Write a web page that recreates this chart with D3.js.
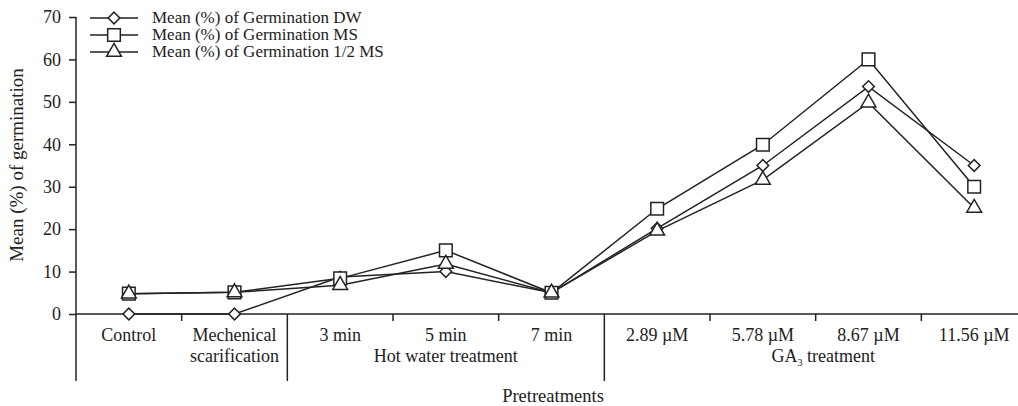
<!DOCTYPE html>
<html>
<head>
<meta charset="utf-8">
<script src="https://cdn.jsdelivr.net/npm/d3@7"></script>
<style>
  body { margin: 0; background: #fff; }
  text { font-family: "Liberation Serif", "Times New Roman", serif; fill: #222; }
</style>
</head>
<body>
<svg id="chart" width="1018" height="406"></svg>
<script>
// categories and values
var categories = ["Control", "Mechenical scarification", "3 min", "5 min", "7 min",
                  "2.89 \u00b5M", "5.78 \u00b5M", "8.67 \u00b5M", "11.56 \u00b5M"];
var groups = [
  { label: "", from: 0, to: 1 },
  { label: "Hot water treatment", from: 2, to: 4 },
  { label: "GA3 treatment", from: 5, to: 8 }
];
var dw     = [0, 0, 8.7, 10, 5, 20.2, 35, 53.6, 35];
var ms     = [4.8, 5.1, 8.4, 15, 5, 24.8, 39.9, 60, 30];
var halfMs = [4.8, 5.1, 6.8, 11.8, 5, 19.6, 31.6, 49.8, 25];
var yTicks = [0, 10, 20, 30, 40, 50, 60, 70];

var series = [
  { name: "Mean (%) of Germination DW", values: dw, shape: d3.symbolSquare, size: 68, rot: 45 },
  { name: "Mean (%) of Germination MS", values: ms, shape: d3.symbolSquare, size: 160, rot: 0 },
  { name: "Mean (%) of Germination 1/2 MS", values: halfMs, shape: d3.symbolTriangle, size: 95, rot: 0 }
];

var svg = d3.select("#chart");
var plotLeft = 76, plotTop = 17, plotBottom = 314, plotRight = 1027;

var x = d3.scaleBand().domain(d3.range(categories.length)).range([plotLeft, plotRight]);
var y = d3.scaleLinear().domain([0, 70]).range([plotBottom, plotTop]);

var ink = "#222";
var fs = "17px";

// y axis
var yAxis = svg.append("g").attr("transform", "translate(" + plotLeft + ",0)")
  .call(d3.axisLeft(y).tickValues(yTicks).tickSize(7).tickPadding(8));
yAxis.select(".domain").remove();
yAxis.selectAll("line").attr("stroke", ink).attr("stroke-width", 1.5);
yAxis.selectAll("text").style("font-size", "18px").style("font-family", "Liberation Serif").attr("fill", ink);
svg.append("line").attr("x1", plotLeft).attr("x2", plotLeft).attr("y1", plotTop).attr("y2", 381)
  .attr("stroke", ink).attr("stroke-width", 1.5);

// x axis
svg.append("line").attr("x1", plotLeft).attr("x2", 1018).attr("y1", plotBottom).attr("y2", plotBottom)
  .attr("stroke", ink).attr("stroke-width", 1.5);
var groupStarts = groups.map(function(g){ return g.from; });
svg.selectAll(".xtick").data(d3.range(1, categories.length)).enter().append("line")
  .attr("x1", function(i){ return x(i); }).attr("x2", function(i){ return x(i); })
  .attr("y1", plotBottom)
  .attr("y2", function(i){ return groupStarts.indexOf(i) >= 0 ? 381 : plotBottom + 7; })
  .attr("stroke", ink).attr("stroke-width", 1.5);

// category labels
svg.selectAll(".cat").data(categories).enter().append("text")
  .attr("text-anchor", "middle")
  .attr("x", function(d, i){ return x(i) + x.bandwidth() / 2; })
  .attr("y", 341)
  .style("font-size", "18px")
  .each(function(d){
    var t = d3.select(this);
    var parts = d === "Mechenical scarification" ? ["Mechenical", "scarification"] : [d];
    parts.forEach(function(p, k){
      t.append("tspan").attr("x", t.attr("x")).attr("dy", k ? 21 : 0).text(p);
    });
  });

// group labels
groups.forEach(function(g){
  if (!g.label) return;
  var cx = (x(g.from) + x(g.to) + x.bandwidth()) / 2;
  if (g.to === categories.length - 1) cx = (x(g.from) + 1018) / 2 + 12;
  var t = svg.append("text").attr("text-anchor", "middle").attr("x", cx).attr("y", 362)
    .style("font-size", "18px");
  if (g.label.indexOf("GA3") === 0) {
    t.append("tspan").text("GA");
    t.append("tspan").attr("dy", 4).style("font-size", "10px").text("3");
    t.append("tspan").attr("dy", -4).text(" treatment");
  } else {
    t.text(g.label);
  }
});

svg.append("text").attr("text-anchor", "middle").attr("x", 553).attr("y", 402)
  .style("font-size", "18.5px").text("Pretreatments");

svg.append("text").attr("text-anchor", "middle")
  .attr("transform", "translate(23,165) rotate(-90)")
  .style("font-size", "19px").text("Mean (%) of germination");

// lines and markers
var line = d3.line()
  .x(function(d, i){ return x(i) + x.bandwidth() / 2; })
  .y(function(d){ return y(d); });

series.forEach(function(s){
  svg.append("path").datum(s.values).attr("d", line)
    .attr("fill", "none").attr("stroke", ink).attr("stroke-width", 1.5);
});
series.forEach(function(s){
  svg.selectAll(null).data(s.values).enter().append("path")
    .attr("d", d3.symbol().type(s.shape).size(s.size))
    .attr("transform", function(d, i){
      return "translate(" + (x(i) + x.bandwidth() / 2) + "," + y(d) + ") rotate(" + s.rot + ")";
    })
    .attr("fill", "#fff").attr("stroke", ink).attr("stroke-width", 1.5);
});

// legend
var legend = svg.append("g");
series.forEach(function(s, k){
  var ly = 18 + k * 17;
  legend.append("line").attr("x1", 90).attr("x2", 138).attr("y1", ly).attr("y2", ly)
    .attr("stroke", ink).attr("stroke-width", 1.5);
  legend.append("path").attr("d", d3.symbol().type(s.shape).size(s.size))
    .attr("transform", "translate(114," + ly + ") rotate(" + s.rot + ")")
    .attr("fill", "#fff").attr("stroke", ink).attr("stroke-width", 1.5);
  legend.append("text").attr("x", 152).attr("y", ly + 5).style("font-size", fs).text(s.name);
});
</script>
</body>
</html>
